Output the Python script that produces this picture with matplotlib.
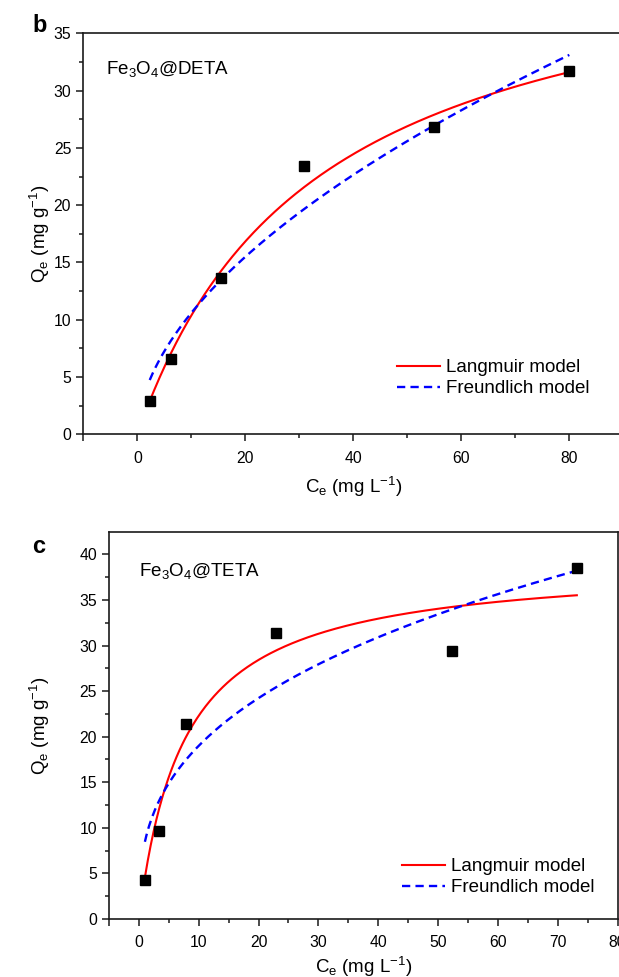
import numpy as np
import matplotlib
matplotlib.use("Agg")
from matplotlib import pyplot as plt

plt.rcParams["font.family"] = ["Liberation Sans", "DejaVu Sans"]
plt.rcParams["mathtext.fontset"] = "custom"
plt.rcParams["mathtext.rm"] = "Liberation Sans"
plt.rcParams["mathtext.it"] = "Liberation Sans:italic"
plt.rcParams["mathtext.default"] = "regular"

# Fe3O4@DETA adsorption data
ce_deta = [2.3, 6.3, 15.5, 30.9, 54.9, 80.0]
qe_deta = [2.93, 6.57, 13.67, 23.42, 26.82, 31.74]
lang_deta = (44.7, 0.0302)   # Qm, KL
freu_deta = (3.00, 0.548)    # KF, 1/n

# Fe3O4@TETA adsorption data
ce_teta = [1.0, 3.28, 7.8, 22.95, 52.3, 73.2]
qe_teta = [4.24, 9.68, 21.44, 31.42, 29.41, 38.5]
lang_teta = (39.2, 0.132)
freu_teta = (8.47, 0.351)


def langmuir(c, qm, k):
    return qm * k * c / (1 + k * c)


def freundlich(c, kf, n_inv):
    return kf * c ** n_inv


def draw_panel(ax, ce, qe, lang, freu, name, xlim, ylim, xmaj, xmin, ymaj, ymin,
               leg_pos, name_pos, xlab_y, ylab_x):
    c = np.linspace(min(ce), max(ce), 300)
    ax.plot(c, langmuir(c, *lang), color="#ff0000", lw=1.5, label="Langmuir model", zorder=2)
    ax.plot(c, freundlich(c, *freu), color="#0000ff", lw=1.7, dashes=(3.5, 2.2),
            label="Freundlich model", zorder=2)
    ax.plot(ce, qe, "s", color="black", ms=7, zorder=3)
    ax.set_xlim(*xlim)
    ax.set_ylim(*ylim)
    ax.set_xticks(xmaj)
    ax.set_xticklabels(["" if v == xlim[0] else "%d" % v for v in xmaj])
    ax.set_xticks(xmin, minor=True)
    ax.set_yticks(ymaj)
    ax.set_yticks(ymin, minor=True)
    for s in ["left", "bottom", "top", "right"]:
        ax.spines[s].set_linewidth(1.2)
        ax.spines[s].set_color("#1a1a1a")
    ax.tick_params(which="both", direction="out", top=False, right=False,
                   labelsize=11.3, width=1.1, color="#1a1a1a")
    ax.tick_params(which="major", length=5.2)
    ax.tick_params(which="minor", length=3)
    ax.tick_params(axis="x", which="major", pad=6.5)
    ax.tick_params(axis="y", which="major", pad=3.5)
    ax.set_xlabel("C$_e$ (mg L$^{-1}$)", fontsize=13.5, va="baseline")
    ax.xaxis.set_label_coords(0.5, xlab_y)
    ax.set_ylabel("Q$_e$ (mg g$^{-1}$)", fontsize=13.5, va="baseline")
    ax.yaxis.set_label_coords(ylab_x, 0.5)
    ax.text(name_pos[0], name_pos[1], name, transform=ax.transAxes,
            fontsize=13.5, va="baseline", ha="left")
    ax.legend(loc="upper left", bbox_to_anchor=leg_pos, frameon=False,
              fontsize=13.5, borderpad=0, borderaxespad=0, handlelength=2.3,
              handletextpad=0.3, labelspacing=0.2)


fig = plt.figure(figsize=(6.19, 9.77), dpi=100)

ax1 = fig.add_axes([0.1346, 0.5555, 0.8724, 0.4104])
draw_panel(ax1, ce_deta, qe_deta, lang_deta, freu_deta, "Fe$_3$O$_4$@DETA",
           (-10, 90), (0, 35), [-10, 0, 20, 40, 60, 80], [10, 30, 50, 70],
           np.arange(0, 36, 5), np.arange(2.5, 35, 5),
           (0.581, 0.187), (0.042, 0.8985), -0.146, -0.069)

ax2 = fig.add_axes([0.1761, 0.0594, 0.8215, 0.3964])
draw_panel(ax2, ce_teta, qe_teta, lang_teta, freu_teta, "Fe$_3$O$_4$@TETA",
           (-5, 80), (0, 42.5), [-5] + list(range(0, 81, 10)),
           [5, 15, 25, 35, 45, 55, 65, 75],
           np.arange(0, 41, 5), np.arange(2.5, 42.5, 5),
           (0.576, 0.157), (0.0596, 0.886), -0.139, -0.124)

fig.text(0.052, 0.967, "b", fontsize=17, fontweight="bold", va="baseline")
fig.text(0.052, 0.4343, "c", fontsize=17, fontweight="bold", va="baseline")

fig.savefig("out.png", dpi=100)
